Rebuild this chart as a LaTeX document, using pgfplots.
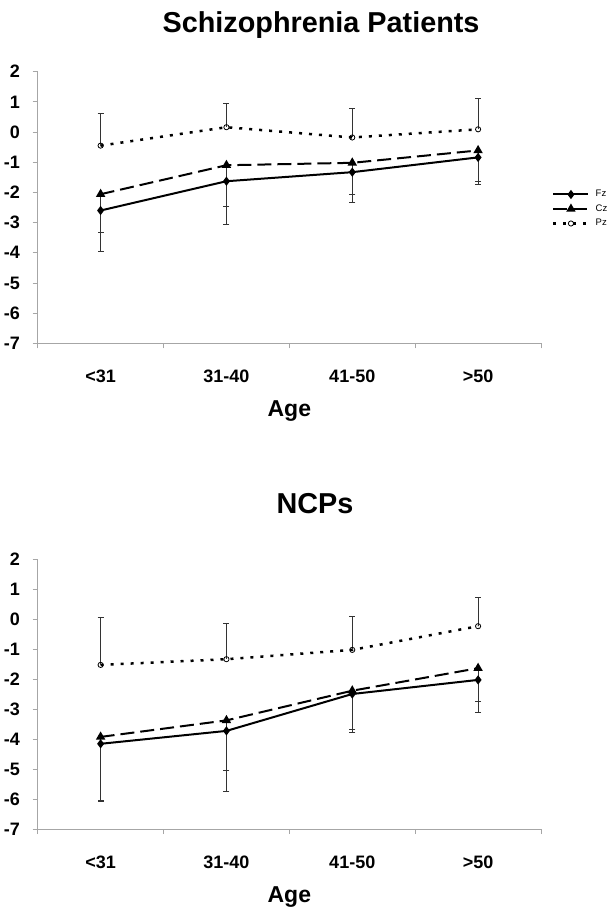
\documentclass[border=0pt]{standalone}
\usepackage{fontspec}
\setmainfont{Liberation Sans}
\usepackage{pgfplots}
\pgfplotsset{compat=1.18}
\definecolor{axgray}{HTML}{A6A6A6}
\definecolor{errc}{HTML}{333333}
\pgfplotsset{
  eegaxis/.style={
    scale only axis,
    width=503.3bp,
    xmin=-0.5, xmax=3.5,
    ymin=-7, ymax=2,
    axis lines*=left,
    axis line style={-, axgray, line width=1bp},
    tick align=outside,
    major tick length=5bp,
    minor tick length=5bp,
    xtick={0,1,2,3},
    xticklabels={<31,31-40,41-50,>50},
    minor xtick={-0.5,0.5,1.5,2.5,3.5},
    every major x tick/.style={draw=none},
    every minor x tick/.style={draw=axgray, line width=0.8bp},
    every major y tick/.style={draw=axgray, line width=0.8bp},
    ytick={-7,-6,-5,-4,-3,-2,-1,0,1,2},
    yticklabels={-7,-6,-5,-4,-3,-2,-1,0,1,2},
    xticklabel style={font=\bfseries\fontsize{18bp}{20bp}\selectfont, anchor=base, yshift=-34.5bp},
    yticklabel style={font=\bfseries\fontsize{18bp}{20bp}\selectfont, anchor=east, inner xsep=0pt, xshift=-12.7bp},
    every axis x label/.style={at={(axis description cs:0.5,0)}, anchor=base, yshift=-73bp, font=\bfseries\fontsize{23bp}{25bp}\selectfont},
    xlabel={Age},
    clip=false,
    legend image code/.code={\draw[mark repeat=2,mark phase=2,#1] plot coordinates {(0bp,0bp) (17.5bp,0bp) (35bp,0bp)};},
    error bars/error bar style={line width=0.8bp, errc, solid},
    error bars/error mark options={rotate=90, mark size=3bp, line width=0.8bp, errc, solid},
  },
  fzstyle/.style={black, line width=2bp, mark=diamond*, mark size=3bp, mark options={solid, fill=black}},
  czstyle/.style={black, line width=2bp, dash pattern=on 14bp off 6bp, mark=triangle*, mark size=3.5bp, mark options={solid, fill=black}},
  pzstyle/.style={black, line width=2.5bp, dash pattern=on 3bp off 7bp, mark=o, mark size=2.6bp, mark options={solid, fill=white, line width=0.8bp}},
}
\begin{document}
\begin{tikzpicture}[x=1bp,y=1bp]
\useasboundingbox (0,0) rectangle (610,912);
% ---------- Schizophrenia Patients ----------
\begin{axis}[eegaxis,
  at={(37.7bp,568.7bp)}, anchor=south west,
  height=271.6bp,
  title={Schizophrenia Patients},
  every axis title/.style={at={(axis description cs:0.563,1)}, anchor=base, yshift=38.7bp, font=\bfseries\fontsize{28.8bp}{30bp}\selectfont},
  legend style={at={(axis description cs:1,0.5)}, anchor=west, xshift=11bp, yshift=-1.5bp,
    draw=none, fill=none, inner xsep=0pt, inner ysep=0pt, row sep=0pt,
    font=\fontsize{9.5bp}{10bp}\selectfont,
    nodes={text height=7bp, text depth=2bp, inner ysep=2.75bp, inner xsep=1bp},
    /tikz/every odd column/.append style={column sep=5bp}},
  legend cell align=left,
]
\addplot[fzstyle, error bars/.cd, y dir=minus, y explicit] coordinates {
  (0,-2.60) -= (0,1.36)
  (1,-1.63) -= (0,1.42)
  (2,-1.33) -= (0,1.01)
  (3,-0.84) -= (0,0.89)
};
\addlegendentry{Fz}
\addplot[czstyle, error bars/.cd, y dir=minus, y explicit] coordinates {
  (0,-2.06) -= (0,1.25)
  (1,-1.10) -= (0,1.36)
  (2,-1.02) -= (0,1.04)
  (3,-0.61) -= (0,1.02)
};
\addlegendentry{Cz}
\addplot[pzstyle, error bars/.cd, y dir=plus, y explicit] coordinates {
  (0,-0.45) += (0,1.07)
  (1,0.16) += (0,0.78)
  (2,-0.18) += (0,0.96)
  (3,0.09) += (0,1.03)
};
\addlegendentry{Pz}
\end{axis}
% ---------- NCPs ----------
\begin{axis}[eegaxis,
  at={(37.7bp,83bp)}, anchor=south west,
  height=270bp,
  title={NCPs},
  every axis title/.style={at={(axis description cs:0.551,1)}, anchor=base, yshift=45.7bp, font=\bfseries\fontsize{28.8bp}{30bp}\selectfont},
]
\addplot[fzstyle, error bars/.cd, y dir=minus, y explicit] coordinates {
  (0,-4.16) -= (0,1.91)
  (1,-3.73) -= (0,2.00)
  (2,-2.50) -= (0,1.29)
  (3,-2.03) -= (0,1.07)
};
\addplot[czstyle, error bars/.cd, y dir=minus, y explicit] coordinates {
  (0,-3.93) -= (0,2.11)
  (1,-3.38) -= (0,1.66)
  (2,-2.39) -= (0,1.30)
  (3,-1.64) -= (0,1.12)
};
\addplot[pzstyle, error bars/.cd, y dir=plus, y explicit] coordinates {
  (0,-1.53) += (0,1.57)
  (1,-1.34) += (0,1.20)
  (2,-1.03) += (0,1.11)
  (3,-0.24) += (0,0.96)
};
\end{axis}
\end{tikzpicture}
\end{document}
